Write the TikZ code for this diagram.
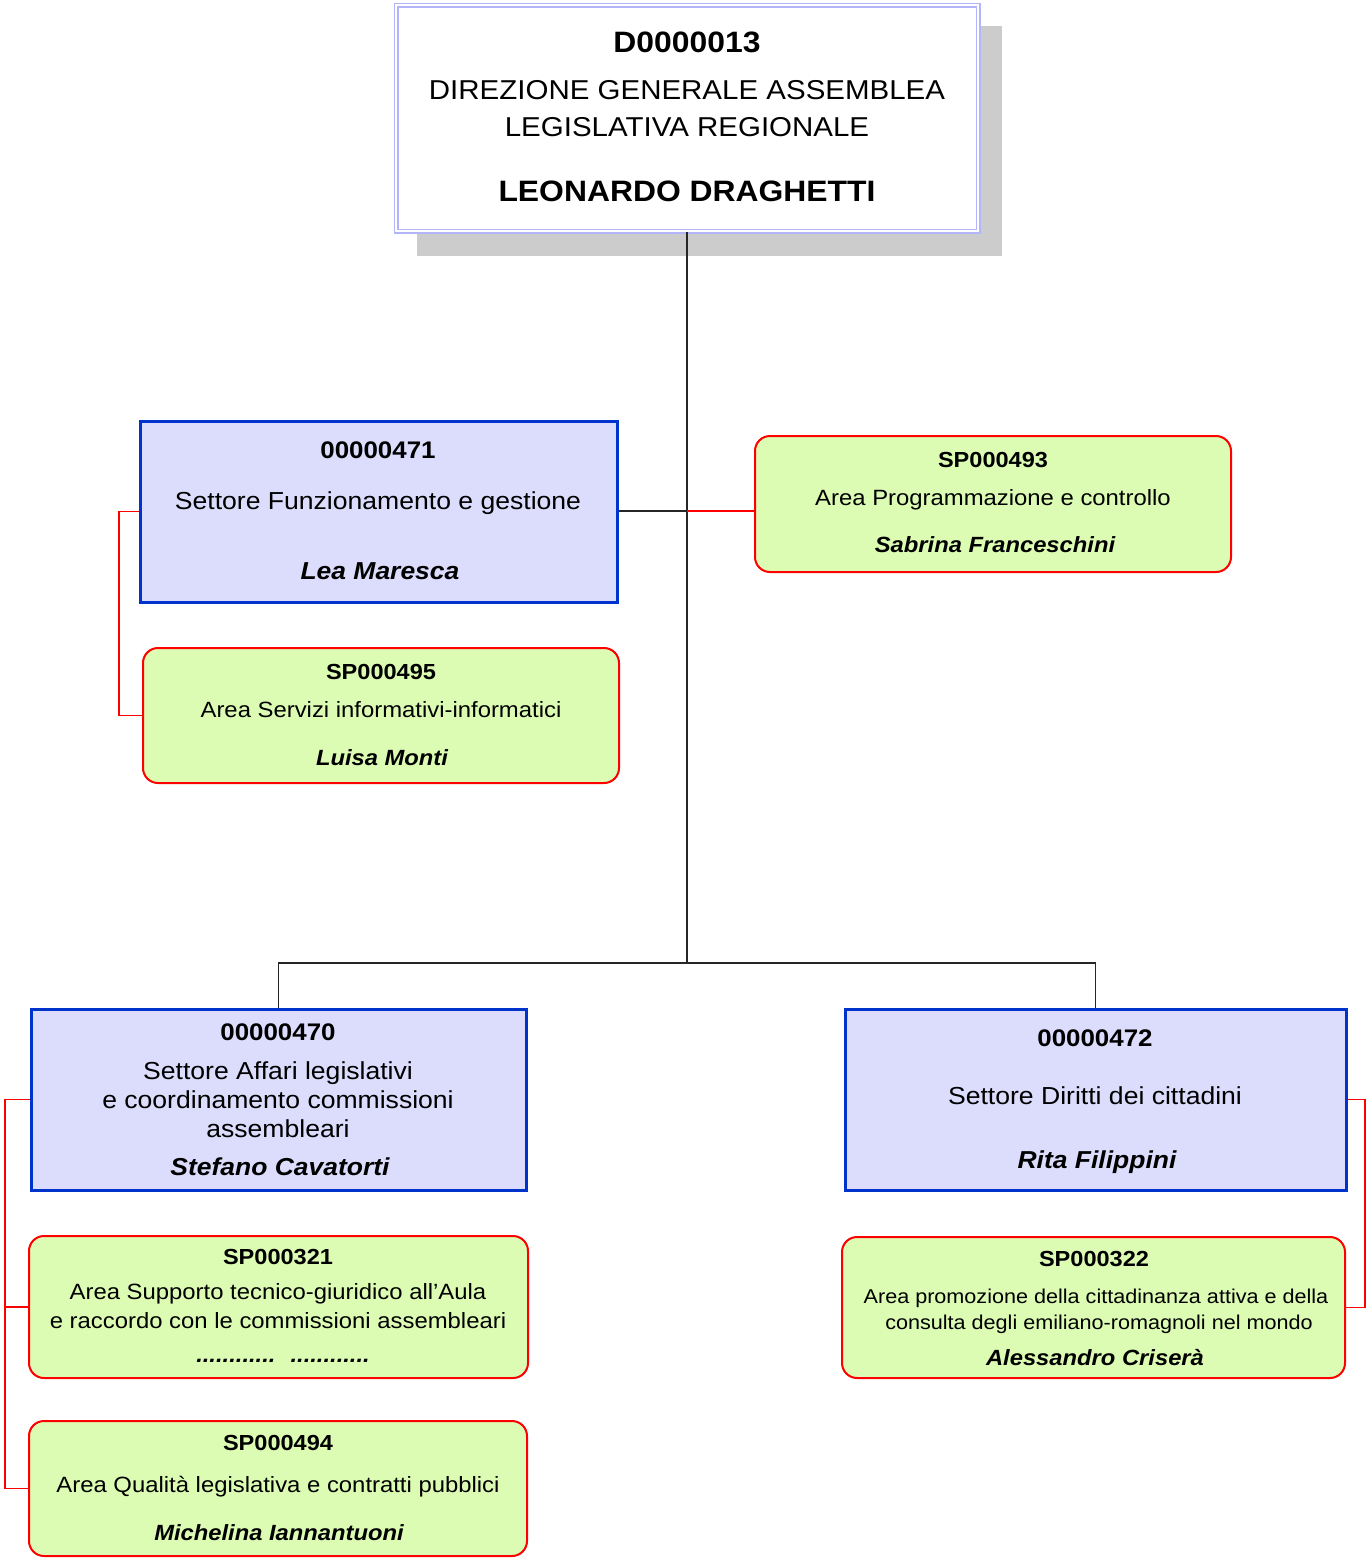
\documentclass[tikz,border=0pt]{standalone}
\usepackage{fontspec}
\setmainfont[FakeStretch=1.08]{Liberation Sans}
\definecolor{boxblue}{RGB}{0,51,204}
\definecolor{bluefill}{RGB}{220,220,252}
\definecolor{greenfill}{RGB}{220,252,180}
\definecolor{lineRed}{RGB}{255,0,0}
\definecolor{lav}{RGB}{180,180,250}
\definecolor{shadowgray}{RGB}{204,204,204}
\newcommand\fsz[1]{\fontsize{#1}{#1}\selectfont}
\tikzset{
  bluebox/.style={draw=boxblue, fill=bluefill, line width=3pt, inner sep=0pt, rectangle},
  greenbox/.style={draw=lineRed, fill=greenfill, line width=2pt, inner sep=0pt, rectangle, rounded corners=15pt},
  topbox/.style={draw=lav, line width=1.5pt, double=white, double distance=2pt, fill=white, inner sep=0pt, rectangle},
  txt/.style={inner sep=0pt, text depth=0pt, anchor=center},
  blk/.style={draw=black!85, line width=1.8pt},
  redl/.style={draw=lineRed, line width=1.6pt},
  bcode/.style={txt, text height=17.3pt, font=\fsz{24}\bfseries},
  bmain/.style={txt, text height=17.7pt, font=\fsz{24.6}},
  bname/.style={txt, text height=17.6pt, font=\fsz{24.5}\bfseries\itshape},
  gcode/.style={txt, text height=15.7pt, font=\fsz{21.8}\bfseries},
  gmain/.style={txt, text height=15.9pt, font=\fsz{22.1}},
  gname/.style={txt, text height=15.8pt, font=\fsz{22}\bfseries\itshape},
  gsmall/.style={txt, text height=14.4pt, font=\fsz{20}},
  tbig/.style={txt, text height=21.2pt, font=\fsz{29.5}\bfseries},
  tmain/.style={txt, text height=19.7pt, font=\fsz{27.3}},
}
\begin{document}
\begin{tikzpicture}[x=1pt,y=-1pt]
\useasboundingbox (0,0) rectangle (1366,1559);
% shadow of top box
\fill[shadowgray] (417,26) rectangle (1002,256);
% boxes
\node[topbox, minimum width=582pt, minimum height=226pt] (top) at (687,118) {};
\node[bluebox, minimum width=477pt, minimum height=181pt] (n471) at (378.5,511.5) {};
\node[greenbox, minimum width=476pt, minimum height=135pt] (sp495) at (381,715.5) {};
\node[greenbox, minimum width=476pt, minimum height=136pt] (sp493) at (993,504) {};
\node[bluebox, minimum width=495pt, minimum height=181pt] (n470) at (278.5,1099.5) {};
\node[greenbox, minimum width=499pt, minimum height=142pt] (sp321) at (278.5,1307) {};
\node[greenbox, minimum width=498pt, minimum height=135pt] (sp494) at (278,1488.5) {};
\node[bluebox, minimum width=501pt, minimum height=181pt] (n472) at (1095.5,1099.5) {};
\node[greenbox, minimum width=503pt, minimum height=141pt] (sp322) at (1093.5,1307.5) {};
% junction coordinates
\coordinate (j1) at (687,511);
\coordinate (bus) at (687,963);
\coordinate (l1) at (5,1099.5);
\coordinate (l0) at (119,511.5);
\coordinate (r1) at (1365,1099.5);
% connectors
\draw[blk] (top.south) -- (bus);
\draw[blk] (n470.north) |- (bus) -| (n472.north);
\draw[blk] (n471.east |- j1) -- (j1);
\draw[redl] (j1) -- (sp493.west |- j1);
\draw[redl] (n471.west) -- (l0) |- (sp495.west);
\draw[redl] (n470.west) -- (l1) |- (sp494.west);
\draw[redl] (l1) |- (sp321.west);
\draw[redl] (n472.east) -- (r1) |- (sp322.east);
% texts top
\node[tbig] (t1) at (687,42) {D0000013};
\node[tmain] (t2) at (687,90) {DIREZIONE GENERALE ASSEMBLEA};
\node[tmain] (t3) at (687,127) {LEGISLATIVA REGIONALE};
\node[tbig] (t4) at (687,191) {LEONARDO DRAGHETTI};
% 471
\node[bcode] (a1) at (378,450) {00000471};
\node[bmain] (a2) at (378,501) {Settore Funzionamento e gestione};
\node[bname] (a3) at (380,571) {Lea Maresca};
% sp495
\node[gcode] (b1) at (381,672) {SP000495};
\node[gmain] (b2) at (381,710) {Area Servizi informativi-informatici};
\node[gname] (b3) at (382,758) {Luisa Monti};
% sp493
\node[gcode] (c1) at (993,460) {SP000493};
\node[gmain] (c2) at (993,498) {Area Programmazione e controllo};
\node[gname] (c3) at (995,545) {Sabrina Franceschini};
% 470
\node[bcode] (d1) at (278,1032) {00000470};
\node[bmain] (d2) at (278,1071) {Settore Affari legislativi};
\node[bmain] (d3) at (278,1100) {e coordinamento commissioni};
\node[bmain] (d4) at (278,1129) {assembleari};
\node[bname] (d5) at (280,1167) {Stefano Cavatorti};
% sp321
\node[gcode] (e1) at (278,1257) {SP000321};
\node[gmain] (e2) at (278,1292) {Area Supporto tecnico-giuridico all’Aula};
\node[gmain] (e3) at (278,1321) {e raccordo con le commissioni assembleari};
\node[inner sep=0pt, anchor=base, font=\fsz{22}\bfseries\itshape] (e4) at (283,1362) {............\hspace{15pt}............};
% sp494
\node[gcode] (f1) at (278,1443) {SP000494};
\node[gmain] (f2) at (278,1485) {Area Qualità legislativa e contratti pubblici};
\node[gname] (f3) at (279,1533) {Michelina Iannantuoni};
% 472
\node[bcode] (g1) at (1095,1038) {00000472};
\node[bmain] (g2) at (1095,1096) {Settore Diritti dei cittadini};
\node[bname] (g3) at (1097,1160) {Rita Filippini};
% sp322
\node[gcode] (h1) at (1094,1259) {SP000322};
\node[gsmall] (h2) at (1096,1296) {Area promozione della cittadinanza attiva e della};
\node[gsmall] (h3) at (1099,1322) {consulta degli emiliano-romagnoli nel mondo};
\node[gname] (h4) at (1095,1358) {Alessandro Criserà};
\end{tikzpicture}
\end{document}
